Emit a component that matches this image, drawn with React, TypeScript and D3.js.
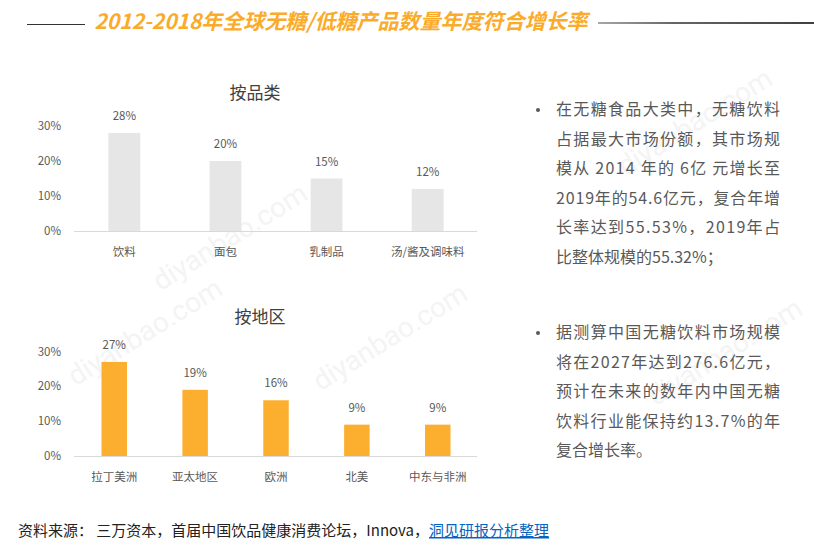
import React from 'react';
import * as d3 from 'd3';

// growth rate by product category (%)
const categoryNames = ['饮料', '面包', '乳制品', '汤/酱及调味料'];
const categoryRates = [28, 20, 15, 12];

// growth rate by region (%)
const regionNames = ['拉丁美洲', '亚太地区', '欧洲', '北美', '中东与非洲'];
const regionRates = [27, 19, 16, 9, 9];

const yTicks = [0, 10, 20, 30];

const noteA = [
  '在无糖食品大类中，无糖饮料',
  '占据最大市场份额，其市场规',
  '模从 2014 年的 6亿 元增长至',
  '2019年的54.6亿元，复合年增',
  '长率达到55.53%，2019年占',
  '比整体规模的55.32%；',
];
const noteB = [
  '据测算中国无糖饮料市场规模',
  '将在2027年达到276.6亿元，',
  '预计在未来的数年内中国无糖',
  '饮料行业能保持约13.7%的年',
  '复合增长率。',
];

const FONT = '"Noto Sans CJK SC", "Noto Sans", sans-serif';
const GREY = '#595959';

type BarProps = {
  names: string[];
  values: number[];
  title: string;
  titleX: number;
  titleY: number;
  base: number;
  top: number;
  color: string;
};

function BarChart({ names, values, title, titleX, titleY, base, top, color }: BarProps) {
  const x = d3.scaleBand<string>().domain(names).range([74, 478]).paddingInner(0.685).paddingOuter(0.34);
  const y = d3.scaleLinear().domain([0, 30]).range([base, top]);
  return (
    <g>
      <text x={titleX} y={titleY} textAnchor="middle" fontSize={17} fill="#404040">{title}</text>
      {yTicks.map(t => (
        <text key={t} x={61} y={y(t) + 4} textAnchor="end" fontSize={11.5} fill={GREY}>{t}%</text>
      ))}
      {names.map((n, i) => (
        <g key={n}>
          <rect x={x(n)} y={y(values[i])} width={x.bandwidth()} height={base - y(values[i])} fill={color} />
          <text x={x(n)! + x.bandwidth() / 2} y={y(values[i]) - 13} textAnchor="middle" fontSize={11.5} fill={GREY}>
            {values[i]}%
          </text>
          <text x={x(n)! + x.bandwidth() / 2} y={base + 25} textAnchor="middle" fontSize={11.5} fill={GREY}>{n}</text>
        </g>
      ))}
      <line x1={74} x2={477} y1={base + 0.5} y2={base + 0.5} stroke="#d9d9d9" strokeWidth={1} />
    </g>
  );
}

function Notes({ lines, y0, last }: { lines: string[]; y0: number; last: number }) {
  return (
    <g fontSize={16} fill={GREY}>
      <circle cx={538} cy={y0 - 5} r={2} fill={GREY} />
      {lines.map((l, i) =>
        i === last ? (
          <text key={i} x={556} y={y0 + i * 29.5}>{l}</text>
        ) : (
          <text key={i} x={556} y={y0 + i * 29.5} textLength={224} lengthAdjust="spacing">{l}</text>
        )
      )}
    </g>
  );
}

// faint site watermark, repeated diagonally
const marks = [
  { x: 395, y: 345 },
  { x: 150, y: 340 },
  { x: 700, y: 130 },
  { x: 730, y: 360 },
  { x: 235, y: 245 },
];

export default function App() {
  return (
    <svg width={814} height={551} style={{ position: 'absolute', left: 0, top: 0, fontFamily: FONT }}>
      <defs>
        <linearGradient id="rule" gradientUnits="userSpaceOnUse" x1={598} x2={814} y1={0} y2={0}>
          <stop offset="0" stopColor="#8a8a8a" />
          <stop offset="0.35" stopColor="#333" />
          <stop offset="1" stopColor="#000" />
        </linearGradient>
      </defs>
      <rect width={814} height={551} fill="#fff" />
      {marks.map((m, i) => (
        <text key={i} x={m.x} y={m.y} textAnchor="middle" fontSize={28} fill="#f4f4f4"
          transform={`rotate(-32 ${m.x} ${m.y})`} fontFamily="Roboto, sans-serif">diyanbao.com</text>
      ))}

      <line x1={27} x2={85} y1={24.5} y2={24.5} stroke="#333" strokeWidth={1} />
      <line x1={598} x2={814} y1={23} y2={23} stroke="url(#rule)" strokeWidth={1.5} />
      <text x={341} y={29} textAnchor="middle" fontSize={21} fontWeight="bold" fontStyle="italic" fill="#fbab2a">
        2012-2018年全球无糖/低糖产品数量年度符合增长率
      </text>

      <BarChart names={categoryNames} values={categoryRates} title="按品类" titleX={255} titleY={99}
        base={231} top={126} color="#e6e6e6" />
      <BarChart names={regionNames} values={regionRates} title="按地区" titleX={260} titleY={323}
        base={456} top={351.5} color="#fcae2e" />

      <Notes lines={noteA} y0={115} last={5} />
      <Notes lines={noteB} y0={338} last={4} />

      <text x={18} y={536} fontSize={15} fill="#222">
        资料来源：  三万资本，首届中国饮品健康消费论坛，Innova，
        <tspan fill="#0563c1" style={{ textDecoration: 'underline' }}>洞见研报分析整理</tspan>
      </text>
    </svg>
  );
}
